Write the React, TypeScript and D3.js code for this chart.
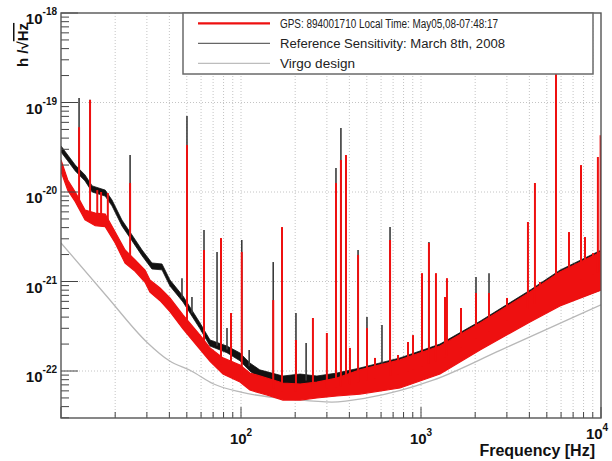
import React from 'react';
import * as d3 from 'd3';

// ---------- data ----------
const xDomain = [10, 10000];
const yDomain = [2.985e-23, 1e-18];
const xLabelValues = [100, 1000, 10000];
const yLabelValues = [1e-18, 1e-19, 1e-20, 1e-21, 1e-22];

const legendLabels = [
  'GPS: 894001710 Local Time: May05,08-07:48:17',
  'Reference Sensitivity: March 8th, 2008',
  'Virgo design',
];

// Virgo design curve
const designFreq = [10, 18, 30, 40, 53, 70, 100, 200, 320, 500, 1166, 2750, 6470, 10000];
const designH = [2.7e-21, 6.8e-22, 2.1e-22, 1.3e-22, 1.0e-22, 7.2e-23, 5.8e-23, 4.8e-23, 4.5e-23, 5.0e-23, 7.9e-23, 1.7e-22, 3.7e-22, 5.5e-22];

// current spectrum (red) noise band
const redBandFreq = [10, 10.9, 12.0, 13.6, 15.5, 17.6, 20.0, 22.7, 25.8, 29.3, 31.2, 35.5, 40.3, 47.6, 59.2, 67.3, 79.4, 98.7, 112, 139, 171, 213, 264, 341, 458, 764, 1275, 2128, 4033, 5918, 10000];
const redUpper = [2.28e-20, 1.36e-20, 1.0e-20, 6.29e-21, 5.82e-21, 5.68e-21, 3.57e-21, 2.25e-21, 1.74e-21, 1.34e-21, 1.04e-21, 8.46e-22, 6.55e-22, 4.23e-22, 2.52e-22, 1.81e-22, 1.40e-22, 1.17e-22, 9.5e-23, 8.35e-23, 7.34e-23, 7.16e-23, 7.53e-23, 8.35e-23, 1.03e-22, 1.33e-22, 1.9e-22, 3.44e-22, 7.64e-22, 1.28e-21, 2.14e-21];
const redLower = [1.7e-20, 1.05e-20, 7.8e-21, 4.9e-21, 4.2e-21, 4.1e-21, 2.7e-21, 1.6e-21, 1.3e-21, 9.8e-22, 7.6e-22, 6.1e-22, 4.6e-22, 2.95e-22, 1.75e-22, 1.28e-22, 9.25e-23, 7.53e-23, 6.13e-23, 5.39e-23, 4.74e-23, 4.74e-23, 4.99e-23, 5.26e-23, 5.53e-23, 6.46e-23, 9.25e-23, 1.72e-22, 3.53e-22, 5.32e-22, 8.04e-22];

// current spectrum (red) lines
const redSpikeFreq = [12.6, 14.5, 15.9, 16.7, 18.2, 24.2, 50.1, 62.3, 77.4, 88, 101, 151, 169, 202, 251, 300, 337, 359, 383, 403, 447, 501, 555, 673, 745, 847, 903, 1013, 1107, 1211, 1359, 1394, 1668, 2021, 2387, 3005, 3928, 4296, 4579, 5623, 6640, 7744, 8148, 9030, 9610, 9950];
const redSpikePeak = [5.3e-20, 1.07e-19, 1.05e-20, 1.0e-20, 9.75e-21, 1.26e-20, 3.35e-20, 2.25e-21, 3.06e-21, 4.45e-22, 2.14e-21, 6.2e-22, 4.06e-21, 2.22e-22, 3.91e-22, 2.66e-22, 1.26e-20, 2.28e-20, 2.59e-20, 1.81e-22, 1.98e-21, 3.02e-22, 1.40e-22, 2.91e-21, 1.51e-22, 2.11e-22, 2.52e-22, 1.24e-21, 2.69e-21, 1.24e-21, 6.71e-22, 1.09e-21, 5.06e-22, 7.44e-22, 7.44e-22, 6.55e-22, 4.62e-21, 1.26e-20, 9.87e-22, 3.0e-19, 3.57e-21, 2.0e-20, 3.14e-21, 2.08e-21, 2.46e-20, 4.3e-20];

// reference sensitivity (black) noise band
const blackBandFreq = [10, 10.9, 12.0, 13.6, 14.9, 17.6, 19.2, 21.8, 24.8, 28.2, 32.0, 36.4, 40.3, 47.6, 59.2, 67.3, 83.6, 98.7, 112, 127, 171, 213, 264, 341, 458, 764, 1275, 2128, 4033, 5918, 10000];
const blackUpper = [3.27e-20, 2.59e-20, 2.0e-20, 1.55e-20, 1.17e-20, 1.05e-20, 8.14e-21, 4.86e-21, 3.31e-21, 2.25e-21, 1.61e-21, 1.57e-21, 1.04e-21, 6.89e-22, 3.44e-22, 2.22e-22, 1.9e-22, 1.59e-22, 1.23e-22, 1.03e-22, 8.79e-23, 9.25e-23, 8.79e-23, 9.5e-23, 1.08e-22, 1.4e-22, 2.0e-22, 3.6e-22, 8.0e-22, 1.34e-21, 2.24e-21];
const blackLower = [2.8e-20, 2.23e-20, 1.72e-20, 1.33e-20, 1.0e-20, 9.0e-21, 7.0e-21, 4.18e-21, 2.85e-21, 1.94e-21, 1.38e-21, 1.35e-21, 8.9e-22, 5.9e-22, 2.96e-22, 1.9e-22, 1.6e-22, 1.3e-22, 1.0e-22, 8.2e-23, 6.6e-23, 6.8e-23, 6.6e-23, 7.0e-23, 6.5e-23, 7.2e-23, 1.0e-22, 1.95e-22, 3.91e-22, 5.46e-22, 8.04e-22];

// reference sensitivity (black) lines
const blackSpikeFreq = [12.6, 14.5, 24.2, 47, 50.1, 53.4, 62.3, 73.6, 83.6, 101, 111, 151, 202, 230, 337, 359, 447, 501, 607, 673, 1107, 2021, 2387, 7170];
const blackSpikePeak = [1.12e-19, 1.07e-19, 2.59e-20, 1.09e-21, 7.07e-20, 6.71e-22, 3.76e-21, 2.14e-21, 3.02e-22, 2.91e-21, 1.72e-22, 1.65e-21, 4.45e-22, 2.06e-22, 1.85e-20, 5.2e-20, 2.25e-21, 4.01e-22, 3.27e-22, 4.06e-21, 2.76e-21, 1.12e-21, 1.24e-21, 1.61e-21];

// ---------- styles ----------
const FONT = "'Liberation Sans', Arial, Helvetica, sans-serif";
const RED = '#ee1010';
const BLACK = '#111111';
const DESIGN = '#b8b8b8';

export default function App() {
  const L = 61, R = 601, T = 13, B = 418;
  const x = d3.scaleLog().domain(xDomain).range([L, R]);
  const y = d3.scaleLog().domain(yDomain).range([B, T]);

  const isMajor = (v: number) => Math.abs(Math.log10(v) - Math.round(Math.log10(v))) < 1e-6;
  const xt = x.ticks();
  const yt = y.ticks().filter((v) => v >= yDomain[0] && v <= yDomain[1]);

  const band = (f: number[], lo: number[], hi: number[]) =>
    d3.area<number>().x((d) => x(d)).y0((d, i) => y(lo[i])).y1((d, i) => y(hi[i]))(f) || '';

  const baseFn = (f: number[], lo: number[], hi: number[]) => {
    const s = d3.scaleLinear().domain(f.map((v) => x(v))).range(f.map((v, i) => (y(lo[i]) + y(hi[i])) / 2));
    return (fr: number) => s(x(fr));
  };
  const redBase = baseFn(redBandFreq, redLower, redUpper);
  const blackBase = baseFn(blackBandFreq, blackLower, blackUpper);

  const designPath = d3.line<number>().x((d) => x(d)).y((d, i) => y(designH[i])).curve(d3.curveMonotoneX)(designFreq) || '';

  const legendRows = [
    { label: legendLabels[0], color: RED, w: 2.2, len: 218 },
    { label: legendLabels[1], color: '#666', w: 1.3, len: 225 },
    { label: legendLabels[2], color: '#bdbdbd', w: 1.2, len: 75 },
  ];

  return (
    <svg width={612} height={461} style={{ position: 'absolute', left: 0, top: 0, background: '#fff' }} fontFamily={FONT}>
      <defs>
        <clipPath id="plotclip">
          <rect x={L} y={T} width={R - L} height={B - T} />
        </clipPath>
      </defs>
      <rect x={0} y={0} width={612} height={461} fill="#fff" />

      {/* grid */}
      <g stroke="#c4c4c4" strokeWidth={1} strokeDasharray="1,2">
        {xt.filter((v) => v > xDomain[0] && v < xDomain[1]).map((v, i) => (
          <line key={'gx' + i} x1={x(v)} x2={x(v)} y1={T} y2={B} />
        ))}
        {yt.filter((v) => isMajor(v) && v < yDomain[1]).map((v, i) => (
          <line key={'gy' + i} x1={L} x2={R} y1={y(v)} y2={y(v)} />
        ))}
      </g>

      <g clipPath="url(#plotclip)">
        {/* design */}
        <path d={designPath} fill="none" stroke={DESIGN} strokeWidth={1.3} />
        {/* black */}
        <path d={band(blackBandFreq, blackLower, blackUpper)} fill={BLACK} stroke={BLACK} strokeWidth={0.8} />
        {blackSpikeFreq.map((f, i) => (
          <line key={'bs' + i} x1={x(f)} x2={x(f)} y1={blackBase(f)} y2={y(blackSpikePeak[i])} stroke="#3a3a3a" strokeWidth={1.6} />
        ))}
        {/* red */}
        <path d={band(redBandFreq, redLower, redUpper)} fill={RED} stroke={RED} strokeWidth={1.2} />
        {redSpikeFreq.map((f, i) => (
          <line key={'rs' + i} x1={x(f)} x2={x(f)} y1={redBase(f)} y2={y(redSpikePeak[i])} stroke={RED} strokeWidth={2} />
        ))}
      </g>

      {/* axis ticks */}
      <g stroke="#444" strokeWidth={1}>
        {yt.map((v, i) => (
          <line key={'ty' + i} x1={L} x2={L + (isMajor(v) ? 17 : 8)} y1={y(v)} y2={y(v)} />
        ))}
        {xt.map((v, i) => (
          <line key={'tx' + i} x1={x(v)} x2={x(v)} y1={B} y2={B - (isMajor(v) ? 11 : 6)} />
        ))}
      </g>

      {/* frame */}
      <rect x={L} y={T} width={R - L} height={B - T} fill="none" stroke="#555" strokeWidth={1.4} />

      {/* y tick labels */}
      {yLabelValues.map((v, i) => (
        <text key={'ly' + i} x={57} y={y(v) + 11} textAnchor="end" fontSize={15} fontWeight="bold" fill="#111">
          10<tspan fontSize={10} dy={-9}>{String(Math.round(Math.log10(v)))}</tspan>
        </text>
      ))}

      {/* x tick labels */}
      {xLabelValues.map((v, i) => (
        <text key={'lx' + i} x={x(v) - (v === 10000 ? 4 : 0)} y={v === 10000 ? 439 : 444} textAnchor="middle" fontSize={15} fontWeight="bold" fill="#111">
          10<tspan fontSize={10} dy={-8}>{String(Math.round(Math.log10(v)))}</tspan>
        </text>
      ))}

      {/* axis titles */}
      <text x={595} y={456} textAnchor="end" fontSize={16} fontWeight="bold" fill="#111">Frequency [Hz]</text>
      <text transform="translate(28,67) rotate(-90)" fontSize={15} fontWeight="bold" fill="#111">
        h /<tspan>√</tspan><tspan style={{ textDecoration: 'overline' }}>Hz</tspan>
      </text>

      {/* legend */}
      <g>
        <rect x={183} y={13} width={410} height={61} fill="#fff" stroke="#6a6a6a" strokeWidth={1.5} />
        {legendRows.map((r, i) => {
          const cy = 23.3 + i * 20;
          return (
            <g key={'lg' + i}>
              <line x1={198} x2={270} y1={cy} y2={cy} stroke={r.color} strokeWidth={r.w} />
              <text x={280} y={cy + 4.5} fontSize={12.5} fill="#222" textLength={r.len} lengthAdjust="spacingAndGlyphs">{r.label}</text>
            </g>
          );
        })}
      </g>
    </svg>
  );
}
